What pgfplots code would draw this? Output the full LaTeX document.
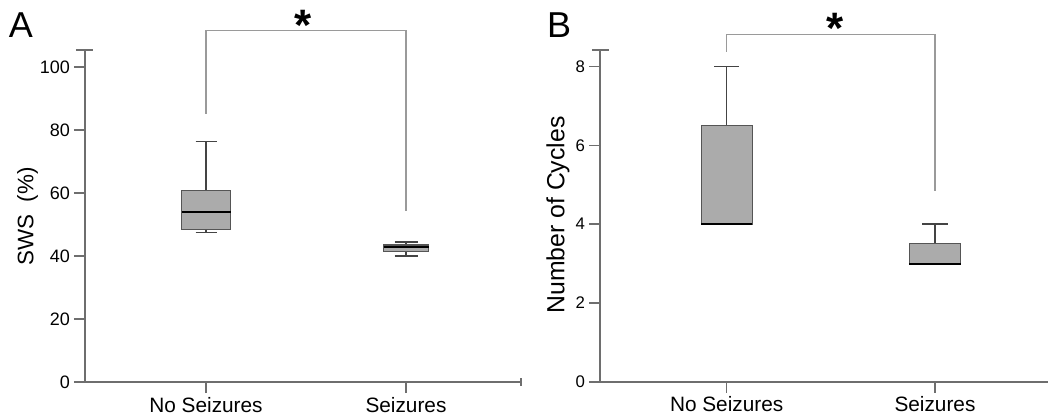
\documentclass[border=0pt]{standalone}
\usepackage{fontspec}
\setmainfont{Liberation Sans}
\usepackage{pgfplots}
\pgfplotsset{compat=1.18}
\usepgfplotslibrary{statistics}

\definecolor{axgray}{HTML}{6E6E6E}
\definecolor{brgray}{HTML}{9A9A9A}
\definecolor{boxfill}{HTML}{ABABAB}
\definecolor{boxdraw}{HTML}{555555}
\definecolor{whisk}{HTML}{444444}

% 1 px of the reference = 0.5pt
\pgfplotsset{
  panel/.style={
    scale only axis,
    axis x line*=bottom,
    axis y line*=left,
    axis line style={axgray, line width=0.8pt},
    tick style={axgray, line width=0.8pt},
    tick align=outside,
    major tick length=5.5pt,
    xtick={1,2},
    xticklabels={No Seizures, Seizures},
    x tick label style={font=\fontsize{10.4}{12}\selectfont, text=black, yshift=1.5pt},
    y tick label style={text=black, xshift=1.5pt},
    /pgf/number format/assume math mode=true,
    clip=false,
    boxplot/draw direction=y,
    boxplot/every whisker/.style={draw=whisk, line width=0.75pt},
    boxplot/every median/.style={draw=black, line width=1pt},
  },
  bx/.style={draw=boxdraw, fill=boxfill, line width=0.6pt, solid, mark=none},
}

\begin{document}
\begin{tikzpicture}
\useasboundingbox (0,0) rectangle (524pt,209.5pt);

% ---------- panel A ----------
\begin{axis}[panel,
  at={(42.5pt,18.5pt)}, anchor=south west,
  width=218pt, height=166pt,
  xmin=0.395, xmax=2.575,
  ymin=0, ymax=105.4,
  ytick={0,20,40,60,80,100},
  y tick label style={font=\fontsize{9}{10}\selectfont},
]
\addplot+[bx, boxplot prepared={draw position=1,
  lower whisker=47.4, lower quartile=48.3, median=54.0,
  upper quartile=60.8, upper whisker=76.3,
  box extend=0.245, whisker extend=0.105}] coordinates {};
\addplot+[bx, boxplot prepared={draw position=2,
  lower whisker=40.0, lower quartile=41.4, median=42.8,
  upper quartile=43.5, upper whisker=44.4,
  box extend=0.225, whisker extend=0.115}] coordinates {};

\draw[axgray, line width=0.8pt] (axis cs:0.35,105.4) -- (axis cs:0.435,105.4);
\draw[axgray, line width=0.8pt] (axis cs:2.575,-1.3) -- (axis cs:2.575,1.3);
\draw[brgray, line width=0.6pt] (axis cs:1,85.1) -- (axis cs:1,111.6)
  -- (axis cs:2,111.6) -- (axis cs:2,54.3);
\node[anchor=north, inner sep=0pt, font=\bfseries\fontsize{22}{24}\selectfont]
  at (axis cs:1.485,118.1) {*};
\end{axis}

% ---------- panel B ----------
\begin{axis}[panel,
  at={(300pt,18.65pt)}, anchor=south west,
  width=224pt, height=165.85pt,
  xmin=0.392, xmax=2.5425,
  ymin=0, ymax=8.42,
  ytick={0,2,4,6,8},
  y tick label style={font=\fontsize{8.4}{10}\selectfont},
]
\addplot+[bx, boxplot prepared={draw position=1,
  lower whisker=4, lower quartile=4, median=4,
  upper quartile=6.5, upper whisker=8,
  box extend=0.245, whisker extend=0.12}] coordinates {};
\addplot+[bx, boxplot prepared={draw position=2,
  lower whisker=3, lower quartile=3, median=3,
  upper quartile=3.5, upper whisker=4,
  box extend=0.245, whisker extend=0.123}] coordinates {};

\draw[axgray, line width=0.8pt] (axis cs:0.353,8.42) -- (axis cs:0.435,8.42);
\draw[brgray, line width=0.6pt] (axis cs:1,8.38) -- (axis cs:1,8.82)
  -- (axis cs:2,8.82) -- (axis cs:2,4.84);
\node[anchor=north, inner sep=0pt, font=\bfseries\fontsize{22}{24}\selectfont]
  at (axis cs:1.518,9.36) {*};
\end{axis}

% labels outside the axes
\node[rotate=90, font=\fontsize{11.2}{13}\selectfont] at (13.75pt,101.25pt) {SWS\ \ (\%)};
\node[rotate=90, font=\fontsize{12.4}{14}\selectfont] at (279pt,102pt) {Number of Cycles};
\node[font=\fontsize{18}{20}\selectfont] at (10.5pt,197pt) {A};
\node[font=\fontsize{18}{20}\selectfont] at (279.5pt,197pt) {B};
\end{tikzpicture}
\end{document}
